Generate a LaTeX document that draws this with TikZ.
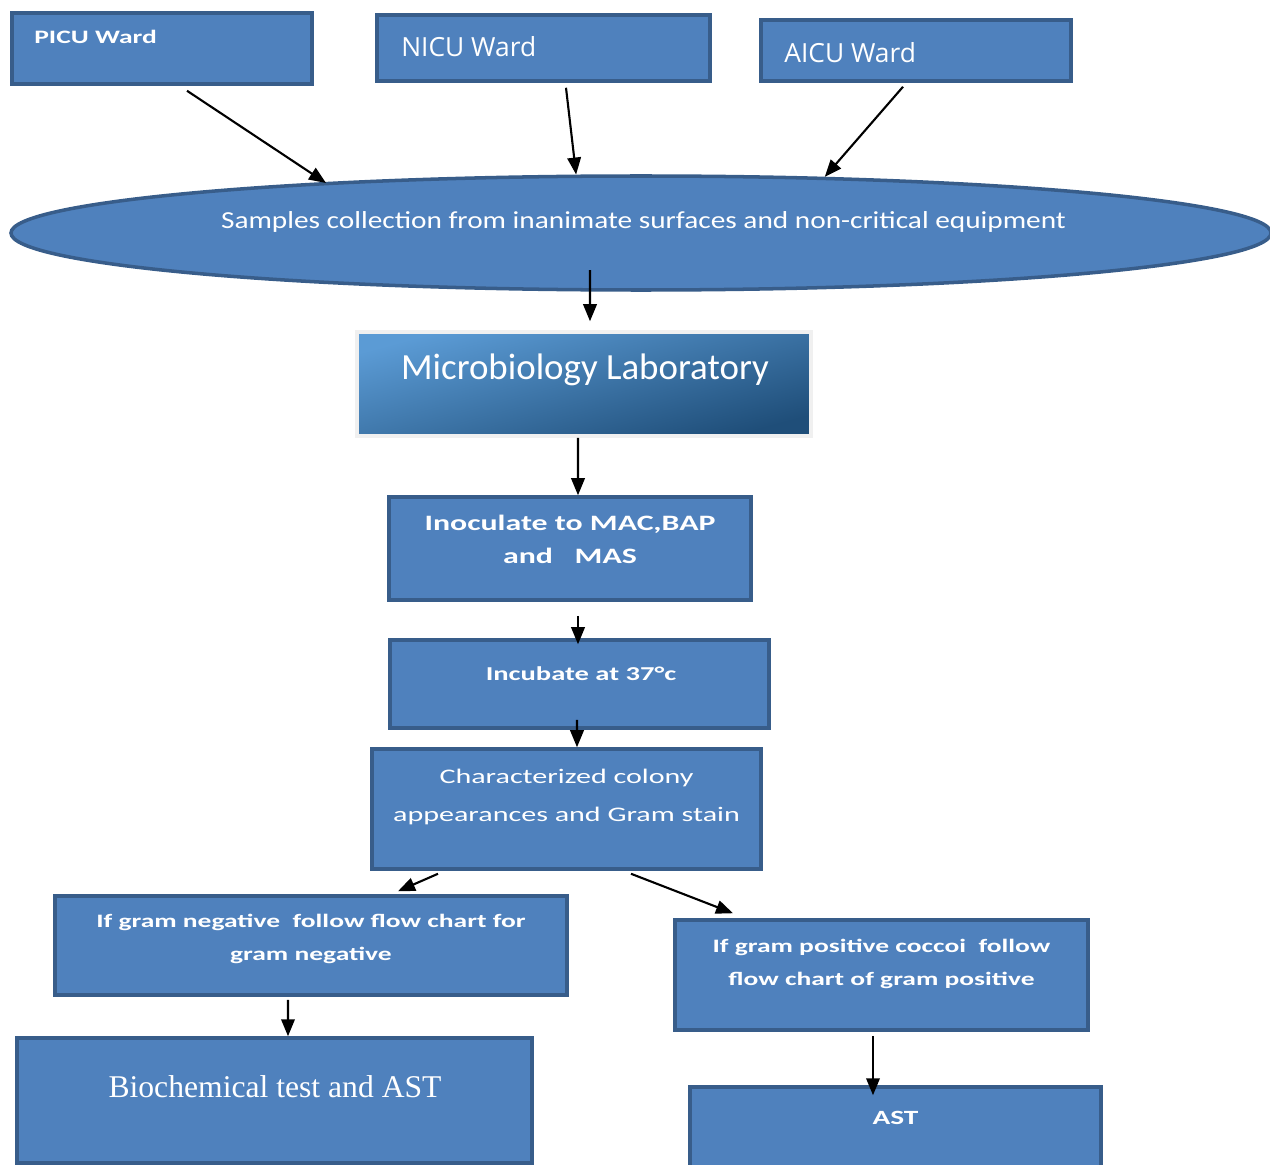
\documentclass[tikz,border=0pt]{standalone}
\usepackage{fontspec}
\usepackage{xcolor}
\usetikzlibrary{arrows.meta, shapes.geometric}
\setmainfont{Carlito}
\newfontfamily\wardfont{Open Sans}
\newfontfamily\widefont{Carlito}[FakeStretch=1.45]
\newfontfamily\samplefont{Carlito}[FakeStretch=1.2]
\newfontfamily\biofont{Liberation Serif}
\definecolor{boxblue}{HTML}{4F81BD}
\definecolor{boxedge}{HTML}{385D8A}
\definecolor{labtop}{HTML}{5B9BD5}
\definecolor{labbottom}{HTML}{1F4E79}
\tikzset{
  flowbox/.style={rectangle, fill=boxblue, draw=boxedge, line width=2pt, inner sep=0pt},
  flow/.style={-{Triangle[length=3.4mm, width=2.7mm]}, line width=1.2pt, color=black},
  boxtxt/.style={text=white, align=center, font=\widefont\bfseries\fontsize{10.8}{18.7}\selectfont},
  wardtxt/.style={text=white, anchor=base west, inner sep=0pt, font=\wardfont\fontsize{15}{18}\selectfont}
}

\begin{document}
\begin{tikzpicture}[y=-1cm]
\useasboundingbox (0,0) rectangle (25.4,23.3);
% wards
\node[flowbox, minimum width=6cm, minimum height=1.42cm] (picu) at (3.24,0.97) {};
\node[boxtxt, anchor=base west, inner sep=0pt] (picu-t) at (0.68,0.88) {PICU Ward};
\node[flowbox, minimum width=6.66cm, minimum height=1.32cm] (nicu) at (10.87,0.96) {};
\node[wardtxt] (nicu-t) at (8.02,1.14) {NICU Ward};
\node[flowbox, minimum width=6.2cm, minimum height=1.22cm] (aicu) at (18.32,1.01) {};
\node[wardtxt] (aicu-t) at (15.68,1.26) {AICU Ward};
% sampling
\node[ellipse, fill=boxblue, draw=boxedge, line width=2pt, minimum width=25.2cm, minimum height=2.28cm] (samples) at (12.82,4.66) {};
\node[text=white, font=\samplefont\fontsize{13.9}{16}\selectfont] (samples-t) at (12.87,4.44) {Samples collection from inanimate surfaces and non-critical equipment};
\coordinate (picu-in) at (6.52,3.66);
% lab
\node[rectangle, draw=gray!12, line width=2pt, top color=labtop, bottom color=labbottom, shading angle=15, minimum width=9.08cm, minimum height=2.08cm] (micro) at (11.68,7.68) {};
\node[text=white, font=\fontsize{21}{25}\selectfont] (micro-t) at (11.7,7.4) {Microbiology Laboratory};
\node[flowbox, minimum width=7.24cm, minimum height=2.06cm] (inoc) at (11.4,10.97) {};
\node[boxtxt, font=\widefont\bfseries\fontsize{12.5}{18.7}\selectfont] (inoc-t) at (11.4,10.78) {Inoculate to MAC,BAP\\and \ \ MAS};
\node[flowbox, minimum width=7.58cm, minimum height=1.76cm] (incub) at (11.59,13.68) {};
\node[boxtxt, font=\widefont\bfseries\fontsize{11.2}{14}\selectfont] (incub-t) at (11.62,13.48) {Incubate at 37°c};
\node[flowbox, minimum width=7.78cm, minimum height=2.4cm] (char) at (11.33,16.18) {};
\node[boxtxt, font=\widefont\fontsize{11.8}{21.5}\selectfont] (char-t) at (11.33,15.94) {Characterized colony\\appearances and Gram stain};
% gram branches
\node[flowbox, minimum width=10.24cm, minimum height=1.98cm] (gneg) at (6.22,18.91) {};
\node[boxtxt] (gneg-t) at (6.22,18.77) {If gram negative \ follow flow chart for\\gram negative};
\node[flowbox, minimum width=8.26cm, minimum height=2.2cm] (gpos) at (17.63,19.5) {};
\node[boxtxt] (gpos-t) at (17.63,19.27) {If gram positive coccoi \ follow\\flow chart of gram positive};
\node[flowbox, minimum width=10.3cm, minimum height=2.5cm] (bio) at (5.49,22.01) {};
\node[text=white, font=\biofont\fontsize{18}{22}\selectfont] (bio-t) at (5.5,21.74) {Biochemical test and AST};
\node[flowbox, minimum width=8.22cm, minimum height=1.76cm] (ast) at (17.91,22.62) {};
\node[boxtxt, font=\widefont\bfseries\fontsize{11.5}{14}\selectfont] (ast-t) at (17.91,22.36) {AST};
% arrows
\draw[flow] ([xshift=0.5cm, yshift=-0.1cm]picu.south) -- (picu-in);
\draw[flow] ([xshift=0.45cm, yshift=-0.1cm]nicu.south) -- (samples.138.5);
\draw[flow] ([xshift=-0.26cm, yshift=-0.08cm]aicu.south) -- (samples.17.5);
\draw[flow] ([xshift=-1.02cm, yshift=-0.74cm]samples.center) -- ([xshift=0.12cm, yshift=0.18cm]micro.north);
\draw[flow] ([xshift=-0.12cm]micro.south) -- ([xshift=0.16cm]inoc.north);
\draw[flow] ([xshift=0.16cm, yshift=-0.28cm]inoc.south) -- ([xshift=-0.03cm, yshift=-0.12cm]incub.north);
\draw[flow] ([xshift=-0.05cm, yshift=0.2cm]incub.south) -- ([xshift=0.21cm]char.north);
\draw[flow] ([xshift=-2.57cm, yshift=-0.06cm]char.south) -- ([xshift=1.74cm, yshift=0.06cm]gneg.north);
\draw[flow] ([xshift=1.29cm, yshift=-0.06cm]char.south) -- ([xshift=-2.97cm, yshift=0.1cm]gpos.north);
\draw[flow] ([xshift=-0.46cm, yshift=-0.06cm]gneg.south) -- ([xshift=0.27cm]bio.north);
\draw[flow] ([xshift=-0.17cm, yshift=-0.08cm]gpos.south) -- ([xshift=-0.45cm, yshift=-0.2cm]ast.north);
\end{tikzpicture}
\end{document}
